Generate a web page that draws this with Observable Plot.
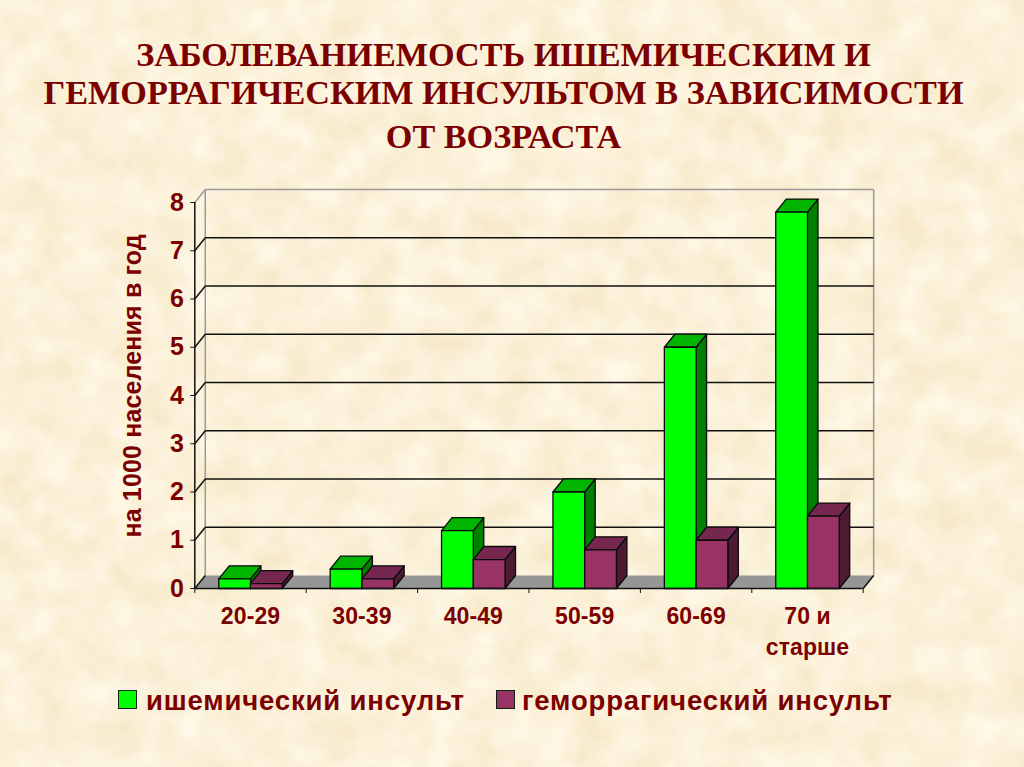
<!DOCTYPE html>
<html><head><meta charset="utf-8">
<script src="https://cdn.jsdelivr.net/npm/d3@7"></script>
<script src="https://cdn.jsdelivr.net/npm/@observablehq/plot@0.6"></script>
<style>
html,body{margin:0;padding:0;width:1024px;height:767px;overflow:hidden;background-color:#faf1d8;}
body{position:relative;background-image:url("data:image/svg+xml;utf8,<svg xmlns='http://www.w3.org/2000/svg' width='1024' height='767'><filter id='n' x='0' y='0' width='100%' height='100%' color-interpolation-filters='sRGB'><feTurbulence type='fractalNoise' baseFrequency='0.028' numOctaves='3' seed='7'/><feColorMatrix values='0.05 0 0 0 0.96  0.09 0 0 0 0.90  0.18 0 0 0 0.76  0 0 0 0 1'/></filter><rect width='1024' height='767' filter='url(%23n)'/></svg>");}
#title{position:absolute;left:0;top:0;width:1007px;height:170px;text-align:center;font:bold 34.2px "Liberation Serif",serif;color:#7b0000;}
#title div{position:absolute;left:0;right:0;white-space:nowrap;}
#chart{position:absolute;left:0;top:170px;}
#legend{position:absolute;left:0;top:660px;width:1024px;height:100px;font:bold 27.5px "Liberation Sans",sans-serif;color:#7b0000;letter-spacing:0.85px;}
#legend span{position:absolute;white-space:nowrap;}
#legend i{position:absolute;width:17px;height:17px;border:1px solid #102010;}
.xl text{letter-spacing:0.1px;}
.yl text{letter-spacing:0.15px;}
</style></head><body>
<div id="title"><div style="top:36px">ЗАБОЛЕВАНИЕМОСТЬ ИШЕМИЧЕСКИМ И</div><div style="top:74px">ГЕМОРРАГИЧЕСКИМ ИНСУЛЬТОМ В ЗАВИСИМОСТИ</div><div style="top:118px">ОТ ВОЗРАСТА</div></div>
<div id="chart"></div>
<div id="legend"><i style="left:118px;top:30px;background:#00ff00"></i><span style="left:146px;top:25px">ишемический инсульт</span><i style="left:496px;top:30px;background:#993366"></i><span style="left:522px;top:25px">геморрагический инсульт</span></div>
<script>
const categories = ["20-29","30-39","40-49","50-59","60-69","70 и\nстарше"];
const ischemic = [0.2,0.4,1.2,2.0,5.0,7.8];
const hemorrhagic = [0.1,0.2,0.6,0.8,1.0,1.5];
const yTicks = [0,1,2,3,4,5,6,7,8];
const DARK = "#7b0000", WALL = "#969696";

// depth of the pseudo-3D projection, in data units
const dx = 0.094, dy = 0.27;
const gap = 0.215, bw = 0.285;

const poly = (id, pts) => pts.map(([x,y]) => ({id,x,y}));
function faces(values, offset){
  const side=[], top=[], front=[];
  values.forEach((v,i)=>{
    const a=i+gap+offset*bw, b=a+bw;
    front.push(...poly(i,[[a,0],[b,0],[b,v],[a,v]]));
    top.push(...poly(i,[[a,v],[b,v],[b+dx,v+dy],[a+dx,v+dy]]));
    side.push(...poly(i,[[b,0],[b+dx,dy],[b+dx,v+dy],[b,v]]));
  });
  return {side,top,front};
}
const face = (data, fill) => Plot.line(data,{x:"x",y:"y",z:"id",fill,stroke:"#0a0a0a",strokeWidth:1.3,curve:"linear-closed",strokeLinejoin:"round"});
const bars = (values, offset, c) => { const f=faces(values,offset); return [face(f.side,c.side),face(f.top,c.top),face(f.front,c.front)]; };

const chart = Plot.plot({
  width:1024, height:490,
  marginLeft:194.3, marginRight:161.3, marginTop:32, marginBottom:72,
  x:{domain:[0,6],axis:null},
  y:{domain:[0,8],axis:null},
  style:{background:"transparent",overflow:"visible"},
  marks:[
    // floor
    Plot.line(poly(0,[[0,0],[6,0],[6+dx,dy],[dx,dy]]),{x:"x",y:"y",z:"id",fill:WALL,stroke:"none",curve:"linear-closed"}),
    // back wall & left wall outline
    Plot.link([{a:dx,b:dx,c:dy,d:8+dy},{a:dx,b:6+dx,c:8+dy,d:8+dy},{a:6+dx,b:6+dx,c:dy,d:8+dy},{a:0,b:dx,c:8,d:8+dy}],{x1:"a",x2:"b",y1:"c",y2:"d",stroke:"#9a9a9a",strokeWidth:1.5}),
    // gridlines and their side-wall diagonals
    Plot.link(yTicks.slice(1,8),{x1:dx,x2:6+dx,y1:d=>d+dy,y2:d=>d+dy,stroke:"#111",strokeWidth:1.5}),
    Plot.link(yTicks.slice(0,8),{x1:0,x2:dx,y1:d=>d,y2:d=>d+dy,stroke:"#111",strokeWidth:1.5}),
    Plot.link([6],{x1:d=>d,x2:d=>d+dx,y1:0,y2:dy,stroke:"#111",strokeWidth:1.5}),
    ...bars(ischemic,0,{side:"#008000",top:"#00b400",front:"#00ff00"}),
    ...bars(hemorrhagic,1,{side:"#4d1a33",top:"#762750",front:"#993366"}),
    // axes
    Plot.ruleX([0],{y1:0,y2:8,stroke:"#111",strokeWidth:1.5}),
    Plot.ruleY([0],{stroke:"#111",strokeWidth:1.5}),
    Plot.axisY({ticks:yTicks,tickSize:4,tickPadding:6,label:null,color:"#111",fontSize:0,tickFormat:()=>""}),
    Plot.axisX({ticks:d3.range(0,7),tickSize:5,label:null,color:"#111",tickFormat:()=>""}),
    Plot.text(yTicks,{x:0,y:d=>d,text:d=>String(d),dx:-11,textAnchor:"end",fill:DARK,fontSize:25,fontWeight:"bold",fontFamily:"Liberation Sans"}),
    Plot.text(categories,{x:(d,i)=>i+0.5,y:0,text:d=>d,dy:13,lineAnchor:"top",lineHeight:1.35,fill:DARK,fontSize:23,fontWeight:"bold",fontFamily:"Liberation Sans",className:"xl"}),
    Plot.text(["на 1000 населения в год"],{x:0,y:4.2,text:d=>d,rotate:-90,dx:-62,fill:DARK,fontSize:25,fontWeight:"bold",fontFamily:"Liberation Sans",className:"yl"})
  ]
});
document.getElementById("chart").appendChild(chart);
</script>
</body></html>
